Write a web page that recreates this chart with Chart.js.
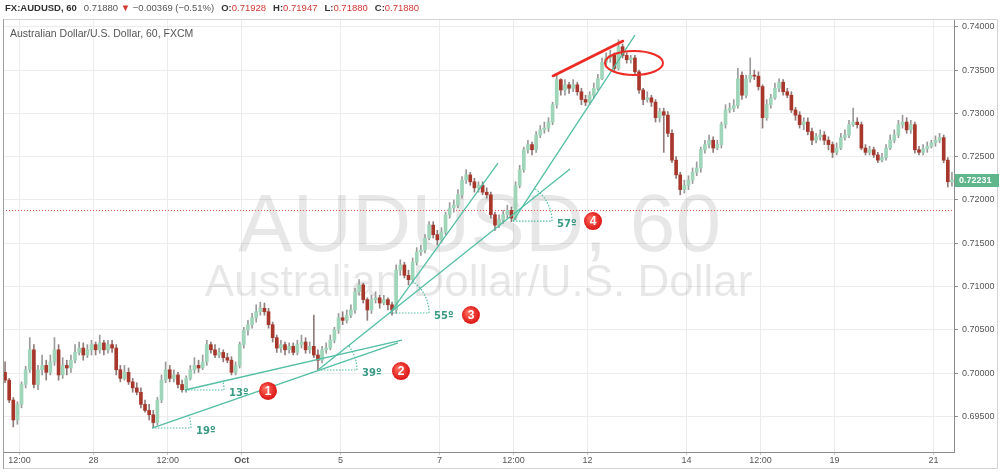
<!DOCTYPE html>
<html><head><meta charset="utf-8">
<script src="https://cdn.jsdelivr.net/npm/chart.js@4.4.0/dist/chart.umd.min.js"></script>
<style>
html,body{margin:0;padding:0;background:#fff;}
#wrap{position:relative;width:1000px;height:472px;overflow:hidden;background:#fff;}
#c{position:absolute;left:0;top:0;}
#hdr{position:absolute;left:5px;top:2px;font:9.5px "Liberation Sans",Arial,sans-serif;color:#555;white-space:nowrap;line-height:12px;}
#hdr .b{font-weight:bold;color:#333;}
#hdr .r{color:#d23a34;}
#hdr .s{display:inline-block;width:7px;}
#leg{position:absolute;left:10px;top:27px;font:10.5px "Liberation Sans",Arial,sans-serif;color:#555;white-space:nowrap;}
</style></head>
<body><div id="wrap"><canvas id="c" width="1000" height="472"></canvas>
<div id="hdr"><span class="b">FX:AUDUSD, 60</span><span class="s"></span>0.71880 <span class="r">▼</span> −0.00369 (−0.51%)<span class="s"></span><span class="b">O:</span><span class="r">0.71928</span><span class="s"></span><span class="b">H:</span><span class="r">0.71947</span><span class="s"></span><span class="b">L:</span><span class="r">0.71880</span><span class="s"></span><span class="b">C:</span><span class="r">0.71880</span></div>
<div id="leg">Australian Dollar/U.S. Dollar, 60, FXCM</div>
</div>
<script>
// ---- data ----
const tickPos  = [3.5, 21.5, 39.5, 57.5, 81.5, 105.5, 123.5, 141.5, 165.5, 183.5, 201.5, 225.5];
const tickText = ['12:00', '28', '12:00', 'Oct', '5', '7', '12:00', '12', '14', '12:00', '19', '21'];
const yTicks   = [0.695, 0.700, 0.705, 0.710, 0.715, 0.720, 0.725, 0.730, 0.735, 0.740];

const openP = [
0.7001,0.6992,0.6969,0.6946,0.6964,0.6987,0.7004,0.7027,0.6987,0.7004,
0.7009,0.7001,0.7013,0.7027,0.6998,0.7009,0.7006,0.7015,0.7024,0.7029,
0.7021,0.7027,0.7033,0.7027,0.7035,0.7027,0.7033,0.7029,0.7004,0.6994,
0.7001,0.6990,0.6983,0.6978,0.6964,0.6957,0.6952,0.6943,0.6969,0.6992,
0.7004,0.6994,0.6998,0.6987,0.6981,0.6994,0.7004,0.7009,0.7006,0.7013,
0.7033,0.7027,0.7021,0.7024,0.7018,0.7015,0.7001,0.7009,0.7033,0.7050,
0.7056,0.7064,0.7071,0.7075,0.7071,0.7056,0.7041,0.7029,0.7033,0.7027,
0.7031,0.7024,0.7033,0.7036,0.7027,0.7031,0.7021,0.7015,0.7027,0.7029,
0.7038,0.7050,0.7064,0.7061,0.7067,0.7073,0.7094,0.7102,0.7085,0.7073,
0.7085,0.7087,0.7081,0.7085,0.7079,0.7073,0.7119,0.7125,0.7113,0.7108,
0.7128,0.7140,0.7142,0.7156,0.7171,0.7160,0.7154,0.7163,0.7183,0.7191,
0.7194,0.7206,0.7223,0.7229,0.7221,0.7214,0.7217,0.7209,0.7206,0.7183,
0.7171,0.7177,0.7183,0.7188,0.7179,0.7217,0.7235,0.7258,0.7264,0.7258,
0.7275,0.7281,0.7283,0.7290,0.7310,0.7339,0.7327,0.7333,0.7329,0.7333,
0.7325,0.7316,0.7313,0.7321,0.7329,0.7340,0.7359,0.7364,0.7367,0.7352,
0.7377,0.7367,0.7362,0.7364,0.7348,0.7327,0.7316,0.7318,0.7313,0.7295,
0.7302,0.7298,0.7277,0.7246,0.7229,0.7212,0.7217,0.7223,0.7232,0.7237,
0.7258,0.7264,0.7269,0.7260,0.7264,0.7287,0.7304,0.7306,0.7309,0.7344,
0.7321,0.7340,0.7344,0.7343,0.7331,0.7295,0.7310,0.7318,0.7329,0.7336,
0.7325,0.7321,0.7304,0.7298,0.7287,0.7290,0.7279,0.7269,0.7273,0.7275,
0.7269,0.7264,0.7255,0.7260,0.7272,0.7275,0.7287,0.7290,0.7287,0.7260,
0.7255,0.7258,0.7252,0.7246,0.7249,0.7260,0.7269,0.7275,0.7287,0.7290,
0.7281,0.7287,0.7258,0.7255,0.7259,0.7262,0.7266,0.7269,0.7272,0.7246,
0.7221];
const highP = [
0.7013,0.6994,0.6972,0.6967,0.6990,0.7008,0.7041,0.7033,0.7009,0.7021,
0.7015,0.7021,0.7041,0.7033,0.7018,0.7015,0.7021,0.7033,0.7036,0.7035,
0.7033,0.7038,0.7036,0.7044,0.7038,0.7038,0.7038,0.7033,0.7009,0.7009,
0.7006,0.6994,0.6989,0.6983,0.6969,0.6964,0.6957,0.6972,0.6998,0.7013,
0.7009,0.7004,0.7001,0.6992,0.6997,0.7009,0.7018,0.7015,0.7021,0.7038,
0.7036,0.7033,0.7029,0.7027,0.7023,0.7019,0.7013,0.7036,0.7053,0.7061,
0.7069,0.7079,0.7082,0.7081,0.7075,0.7059,0.7044,0.7038,0.7036,0.7035,
0.7035,0.7038,0.7044,0.7041,0.7036,0.7067,0.7027,0.7031,0.7035,0.7044,
0.7053,0.7069,0.7071,0.7073,0.7079,0.7098,0.7108,0.7104,0.7087,0.7090,
0.7094,0.7090,0.7090,0.7087,0.7082,0.7125,0.7131,0.7128,0.7119,0.7133,
0.7145,0.7148,0.7160,0.7175,0.7175,0.7165,0.7168,0.7186,0.7197,0.7200,
0.7212,0.7227,0.7235,0.7232,0.7225,0.7221,0.7221,0.7214,0.7209,0.7186,
0.7183,0.7188,0.7194,0.7192,0.7221,0.7240,0.7261,0.7269,0.7267,0.7279,
0.7286,0.7290,0.7295,0.7313,0.7344,0.7340,0.7339,0.7336,0.7339,0.7336,
0.7329,0.7321,0.7325,0.7335,0.7345,0.7364,0.7370,0.7373,0.7370,0.7385,
0.7380,0.7370,0.7367,0.7367,0.7350,0.7329,0.7325,0.7321,0.7316,0.7306,
0.7306,0.7302,0.7281,0.7250,0.7232,0.7223,0.7228,0.7237,0.7244,0.7261,
0.7269,0.7275,0.7273,0.7269,0.7290,0.7310,0.7312,0.7316,0.7352,0.7348,
0.7344,0.7364,0.7350,0.7348,0.7333,0.7316,0.7322,0.7335,0.7340,0.7339,
0.7329,0.7325,0.7307,0.7302,0.7295,0.7295,0.7283,0.7277,0.7281,0.7279,
0.7273,0.7267,0.7266,0.7277,0.7281,0.7292,0.7306,0.7295,0.7290,0.7264,
0.7262,0.7261,0.7255,0.7254,0.7264,0.7275,0.7281,0.7292,0.7298,0.7295,
0.7292,0.7290,0.7262,0.7264,0.7267,0.7269,0.7274,0.7277,0.7275,0.7249,
0.7232];
const lowP = [
0.6989,0.6966,0.6938,0.6941,0.6960,0.6983,0.7001,0.6983,0.6981,0.6998,
0.6992,0.6998,0.7009,0.6992,0.6994,0.6998,0.7001,0.7012,0.7021,0.7015,
0.7018,0.7021,0.7021,0.7023,0.7021,0.7023,0.7024,0.6998,0.6990,0.6992,
0.6987,0.6978,0.6975,0.6960,0.6955,0.6946,0.6937,0.6940,0.6966,0.6989,
0.6990,0.6990,0.6983,0.6978,0.6978,0.6992,0.7000,0.7001,0.7004,0.7009,
0.7023,0.7018,0.7018,0.7013,0.7012,0.6998,0.6998,0.7006,0.7029,0.7044,
0.7052,0.7059,0.7067,0.7067,0.7052,0.7036,0.7024,0.7024,0.7021,0.7023,
0.7021,0.7021,0.7029,0.7023,0.7023,0.7018,0.7004,0.7012,0.7023,0.7027,
0.7035,0.7046,0.7056,0.7058,0.7064,0.7069,0.7090,0.7081,0.7061,0.7069,
0.7081,0.7075,0.7079,0.7073,0.7067,0.7069,0.7113,0.7110,0.7102,0.7104,
0.7125,0.7136,0.7139,0.7154,0.7156,0.7148,0.7151,0.7160,0.7179,0.7186,
0.7191,0.7202,0.7219,0.7217,0.7209,0.7209,0.7206,0.7202,0.7179,0.7165,
0.7168,0.7173,0.7179,0.7175,0.7177,0.7214,0.7232,0.7254,0.7252,0.7255,
0.7272,0.7277,0.7279,0.7287,0.7306,0.7321,0.7321,0.7323,0.7325,0.7321,
0.7310,0.7309,0.7310,0.7318,0.7327,0.7339,0.7356,0.7359,0.7348,0.7350,
0.7364,0.7358,0.7358,0.7344,0.7323,0.7310,0.7313,0.7308,0.7290,0.7290,
0.7255,0.7273,0.7243,0.7225,0.7206,0.7208,0.7212,0.7219,0.7228,0.7232,
0.7254,0.7260,0.7255,0.7258,0.7260,0.7283,0.7301,0.7302,0.7306,0.7316,
0.7318,0.7336,0.7339,0.7327,0.7283,0.7292,0.7306,0.7316,0.7325,0.7321,
0.7318,0.7301,0.7292,0.7283,0.7281,0.7275,0.7264,0.7266,0.7269,0.7264,
0.7258,0.7249,0.7252,0.7258,0.7269,0.7272,0.7285,0.7283,0.7258,0.7252,
0.7252,0.7249,0.7243,0.7244,0.7246,0.7258,0.7266,0.7272,0.7283,0.7277,
0.7277,0.7254,0.7252,0.7252,0.7255,0.7260,0.7262,0.7266,0.7243,0.7215,
0.7216];
const closeP = [
0.6992,0.6969,0.6946,0.6964,0.6987,0.7004,0.7027,0.6987,0.7004,0.7009,
0.7001,0.7013,0.7027,0.6998,0.7009,0.7006,0.7015,0.7024,0.7029,0.7021,
0.7027,0.7033,0.7027,0.7035,0.7027,0.7033,0.7029,0.7004,0.6994,0.7001,
0.6990,0.6983,0.6978,0.6964,0.6957,0.6952,0.6943,0.6969,0.6992,0.7004,
0.6994,0.6998,0.6987,0.6981,0.6994,0.7004,0.7009,0.7006,0.7013,0.7033,
0.7027,0.7021,0.7024,0.7018,0.7015,0.7001,0.7009,0.7033,0.7050,0.7056,
0.7064,0.7071,0.7075,0.7071,0.7056,0.7041,0.7029,0.7033,0.7027,0.7031,
0.7024,0.7033,0.7036,0.7027,0.7031,0.7021,0.7015,0.7027,0.7029,0.7038,
0.7050,0.7064,0.7061,0.7067,0.7073,0.7094,0.7102,0.7085,0.7073,0.7085,
0.7087,0.7081,0.7085,0.7079,0.7073,0.7119,0.7125,0.7113,0.7108,0.7128,
0.7140,0.7142,0.7156,0.7171,0.7160,0.7154,0.7163,0.7183,0.7191,0.7194,
0.7206,0.7223,0.7229,0.7221,0.7214,0.7217,0.7209,0.7206,0.7183,0.7171,
0.7177,0.7183,0.7188,0.7179,0.7217,0.7235,0.7258,0.7264,0.7258,0.7275,
0.7281,0.7283,0.7290,0.7310,0.7339,0.7327,0.7333,0.7329,0.7333,0.7325,
0.7316,0.7313,0.7321,0.7329,0.7340,0.7359,0.7364,0.7367,0.7352,0.7377,
0.7367,0.7362,0.7364,0.7348,0.7327,0.7316,0.7318,0.7313,0.7295,0.7302,
0.7298,0.7277,0.7246,0.7229,0.7212,0.7217,0.7223,0.7232,0.7237,0.7258,
0.7264,0.7269,0.7260,0.7264,0.7287,0.7304,0.7306,0.7309,0.7340,0.7321,
0.7340,0.7344,0.7343,0.7331,0.7295,0.7310,0.7318,0.7329,0.7336,0.7325,
0.7321,0.7304,0.7298,0.7287,0.7290,0.7279,0.7269,0.7273,0.7275,0.7269,
0.7264,0.7255,0.7260,0.7272,0.7275,0.7287,0.7290,0.7287,0.7260,0.7255,
0.7258,0.7252,0.7246,0.7249,0.7260,0.7269,0.7275,0.7287,0.7290,0.7281,
0.7287,0.7258,0.7255,0.7259,0.7262,0.7266,0.7269,0.7272,0.7246,0.7221,
0.72231];

const lastPrice = 0.72231;   // last close shown in axis tag
const markPrice = 0.71880;   // red dotted price line

// annotation geometry in data units: [candle index, price]
const trendLines = [
  [[35.69, 0.69367], [95.44, 0.70349]],
  [[43.71, 0.69806], [96.41, 0.70383]],
  [[76.01, 0.70037], [137.22, 0.72358]],
  [[93.50, 0.70695], [119.73, 0.72427]],
  [[123.38, 0.71757], [153.01, 0.73905]]
];
const angleMarks = [
  {at: [35.69, 0.69367], deg: 19, text: '19º'},
  {at: [43.71, 0.69806], deg: 13, text: '13º'},
  {at: [76.01, 0.70037], deg: 39, text: '39º'},
  {at: [93.50, 0.70695], deg: 55, text: '55º'},
  {at: [123.38, 0.71757], deg: 57, text: '57º'}
];
const badges = [
  {at: [63.87, 0.69795], text: '1'},
  {at: [96.17, 0.70025], text: '2'},
  {at: [113.17, 0.70672], text: '3'},
  {at: [142.81, 0.71757], text: '4'}
];
const redLine = [[133.09, 0.73432], [150.10, 0.73836]];
const redEllipseAt = [152.77, 0.73582];

// ---- chart ----
Chart.defaults.font.family = '"Liberation Sans", Arial, sans-serif';
const UP_FILL = '#9fd5b9', DOWN_FILL = '#a8372b', WICK = '#9a9a9a';
const TEAL = '#52bea4', TEAL_TXT = '#3a9a84', RED = '#ee2a24';
const isUp = i => closeP[i] >= openP[i];

const bodyData = closeP.map((c, i) => ({x: i, y: [openP[i], c]}));
const wickData = closeP.map((c, i) => ({x: i, y: [lowP[i], highP[i]]}));

const annot = {
  id: 'annot',
  beforeDatasetsDraw(chart) {
    const {ctx, chartArea: a, scales: {y}} = chart;
    ctx.save();
    const cx = (a.left + a.right) / 2;
    ctx.fillStyle = 'rgba(0,0,0,0.095)';
    ctx.textAlign = 'center';
    ctx.textBaseline = 'alphabetic';
    ctx.font = '82px "Liberation Sans", Arial, sans-serif';
    ctx.fillText('AUDUSD, 60', cx + 1, 251);
    ctx.font = '44px "Liberation Sans", Arial, sans-serif';
    ctx.fillText('Australian Dollar/U.S. Dollar', cx, 296);
    // price line
    const py = Math.round(y.getPixelForValue(markPrice)) + 0.5;
    ctx.strokeStyle = '#e8504a';
    ctx.lineWidth = 1;
    ctx.setLineDash([1, 2]);
    ctx.beginPath(); ctx.moveTo(a.left, py); ctx.lineTo(a.right, py); ctx.stroke();
    ctx.restore();
  },
  afterDatasetsDraw(chart) {
    const {ctx, scales: {x, y}} = chart;
    const P = p => [x.getPixelForValue(p[0]), y.getPixelForValue(p[1])];
    ctx.save();
    ctx.strokeStyle = TEAL; ctx.lineWidth = 1.3;
    trendLines.forEach(l => {
      const a = P(l[0]), b = P(l[1]);
      ctx.beginPath(); ctx.moveTo(a[0], a[1]); ctx.lineTo(b[0], b[1]); ctx.stroke();
    });
    angleMarks.forEach(m => {
      const v = P(m.at), r = 39;
      ctx.strokeStyle = TEAL; ctx.lineWidth = 1.2; ctx.setLineDash([1.5, 1.5]);
      ctx.beginPath(); ctx.moveTo(v[0], v[1]); ctx.lineTo(v[0] + r, v[1]); ctx.stroke();
      ctx.beginPath(); ctx.arc(v[0], v[1], r, 0, -m.deg * Math.PI / 180, true); ctx.stroke();
      ctx.setLineDash([]);
      ctx.fillStyle = TEAL_TXT;
      ctx.font = 'bold 10px "DejaVu Sans", sans-serif';
      ctx.textAlign = 'left'; ctx.textBaseline = 'middle';
      ctx.fillText(m.text, v[0] + r + 5, v[1] + 3);
    });
    ctx.strokeStyle = RED; ctx.lineWidth = 2.6; ctx.lineCap = 'round';
    const r1 = P(redLine[0]), r2 = P(redLine[1]);
    ctx.beginPath(); ctx.moveTo(r1[0], r1[1]); ctx.lineTo(r2[0], r2[1]); ctx.stroke();
    const e = P(redEllipseAt);
    ctx.lineWidth = 2;
    ctx.beginPath(); ctx.ellipse(e[0], e[1], 29, 12, 0, 0, Math.PI * 2); ctx.stroke();
    badges.forEach(b => {
      const c = P(b.at);
      const g = ctx.createRadialGradient(c[0] - 3, c[1] - 3, 1, c[0], c[1], 10);
      g.addColorStop(0, '#ff6a5c'); g.addColorStop(1, '#d80f0f');
      ctx.fillStyle = g;
      ctx.beginPath(); ctx.arc(c[0], c[1], 9, 0, Math.PI * 2); ctx.fill();
      ctx.fillStyle = '#fff';
      ctx.font = 'bold 12px "Liberation Sans", Arial, sans-serif';
      ctx.textAlign = 'center'; ctx.textBaseline = 'middle';
      ctx.fillText(b.text, c[0], c[1] + 0.5);
    });
    ctx.restore();
  },
  afterDraw(chart) {
    const {ctx, chartArea: a, scales: {y}} = chart;
    ctx.save();
    ctx.lineWidth = 1;
    ctx.strokeStyle = '#d2d2d2';
    ctx.beginPath(); ctx.moveTo(a.left, 19.5); ctx.lineTo(997.5, 19.5); ctx.lineTo(997.5, 468.5); ctx.lineTo(a.left, 468.5); ctx.stroke();
    ctx.strokeStyle = '#a0a0a0';
    ctx.beginPath(); ctx.moveTo(a.left + 0.5, 19); ctx.lineTo(a.left + 0.5, 469); ctx.stroke();
    const py = y.getPixelForValue(lastPrice);
    ctx.fillStyle = '#5fb68b';
    ctx.fillRect(a.right + 1, Math.round(py) - 6, 44, 13);
    ctx.fillStyle = '#fff';
    ctx.font = 'bold 9px "Liberation Sans", Arial, sans-serif';
    ctx.textAlign = 'left'; ctx.textBaseline = 'middle';
    ctx.fillText(lastPrice.toFixed(5), a.right + 5, Math.round(py) + 0.5);
    ctx.restore();
  }
};

new Chart(document.getElementById('c'), {
  type: 'bar',
  data: {
    datasets: [
      {data: bodyData, grouped: false, order: 1, barThickness: 3, minBarLength: 1, borderWidth: 0,
       backgroundColor: c => isUp(c.dataIndex) ? UP_FILL : DOWN_FILL},
      {data: wickData, grouped: false, order: 2, barThickness: 1, borderWidth: 0,
       backgroundColor: c => isUp(c.dataIndex) ? WICK : '#8f7b78'}
    ]
  },
  plugins: [annot],
  options: {
    responsive: false, animation: false, devicePixelRatio: 1, events: [],
    layout: {padding: {left: 3, top: 19, right: 0, bottom: 0}},
    plugins: {legend: {display: false}, tooltip: {enabled: false}},
    scales: {
      x: {
        type: 'linear', min: -0.5, max: 230.5, offset: false,
        grid: {color: '#ececec', offset: false, tickLength: 3, tickColor: '#c8c8c8'},
        border: {color: '#8c8c8c'},
        afterBuildTicks: s => { s.ticks = tickPos.map(v => ({value: v})); },
        afterFit: s => { s.height = 20; },
        ticks: {
          autoSkip: false, maxRotation: 0, padding: 0, color: '#555',
          font: c => ({size: 9, weight: tickText[c.index] === 'Oct' ? 'bold' : 'normal'}),
          callback: (v, i) => tickText[i]
        }
      },
      y: {
        type: 'linear', position: 'right', min: 0.6909, max: 0.7409,
        grid: {color: '#ececec', tickLength: 4, tickColor: '#8c8c8c'},
        border: {color: '#8c8c8c'},
        afterBuildTicks: s => { s.ticks = yTicks.map(v => ({value: v})); },
        afterFit: s => { s.width = 46; },
        ticks: {autoSkip: false, padding: 4, color: '#555', font: {size: 9},
                callback: v => Number(v).toFixed(5)}
      }
    }
  }
});
</script>
</body></html>
